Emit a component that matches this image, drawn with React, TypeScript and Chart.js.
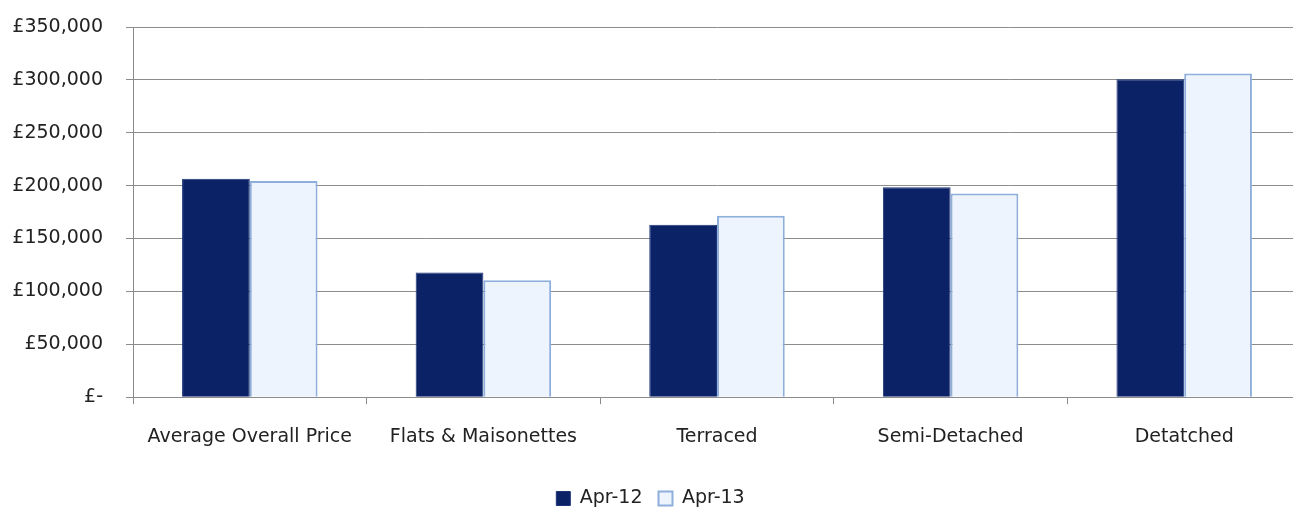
import React, { useEffect, useRef } from "react";
import { Chart, registerables } from "chart.js";

Chart.register(...registerables);

const categories = [
  "Average Overall Price",
  "Flats & Maisonettes",
  "Terraced",
  "Semi-Detached",
  "Detatched",
];
const seriesNames = ["Apr-12", "Apr-13"];
const apr12 = [206500, 118000, 163000, 198500, 300500];
const apr13 = [204500, 110500, 171500, 192500, 306000];

const FONT = "'DejaVu Sans', Verdana, sans-serif";

export default function App() {
  const ref = useRef<HTMLCanvasElement | null>(null);

  useEffect(() => {
    const canvas = ref.current;
    if (!canvas) return;
    const chart = new Chart(canvas, {
      type: "bar",
      data: {
        labels: categories,
        datasets: [
          {
            label: seriesNames[0],
            data: apr12,
            backgroundColor: "#0b2266",
            borderColor: "#1d3578",
            borderWidth: 1,
            categoryPercentage: 0.58,
            barPercentage: 1.0,
          },
          {
            label: seriesNames[1],
            data: apr13,
            backgroundColor: "#eef4fd",
            borderColor: "#8eaedc",
            borderWidth: 2,
            categoryPercentage: 0.58,
            barPercentage: 1.0,
          },
        ],
      },
      options: {
        animation: false,
        responsive: false,
        maintainAspectRatio: false,
        layout: { padding: { top: 27, right: 4, left: 0, bottom: -11 } },
        plugins: {
          legend: {
            position: "bottom",
            labels: {
              color: "#222",
              font: { family: FONT, size: 19 },
              boxWidth: 14,
              boxHeight: 14,
              padding: 16,
            },
          },
          tooltip: { enabled: false },
        },
        scales: {
          x: {
            afterFit: (s: any) => {
              s.height += 4;
            },
            grid: {
              offset: true,
              drawOnChartArea: false,
              color: "#8c8c8c",
              tickLength: 7,
            },
            border: { color: "#8c8c8c" },
            ticks: {
              color: "#222",
              font: { family: FONT, size: 19 },
              padding: 21,
              maxRotation: 0,
            },
          },
          y: {
            min: 0,
            max: 350000,
            afterFit: (s: any) => {
              s.width = 133;
              s.paddingTop = 0;
              s.paddingBottom = 0;
            },
            grid: { color: "#8c8c8c", tickLength: 7 },
            border: { color: "#8c8c8c" },
            ticks: {
              stepSize: 50000,
              color: "#222",
              font: { family: FONT, size: 19 },
              padding: 23,
              callback: (v: any) =>
                Number(v) === 0 ? "£-" : "£" + Number(v).toLocaleString("en-GB"),
            },
          },
        },
      },
    });
    return () => chart.destroy();
  }, []);

  return (
    <div
      style={{
        position: "fixed",
        left: 0,
        top: 0,
        width: 1293,
        height: 507,
        overflow: "hidden",
        background: "#fff",
      }}
    >
      <canvas ref={ref} width={1305} height={507} style={{ display: "block" }} />
    </div>
  );
}
